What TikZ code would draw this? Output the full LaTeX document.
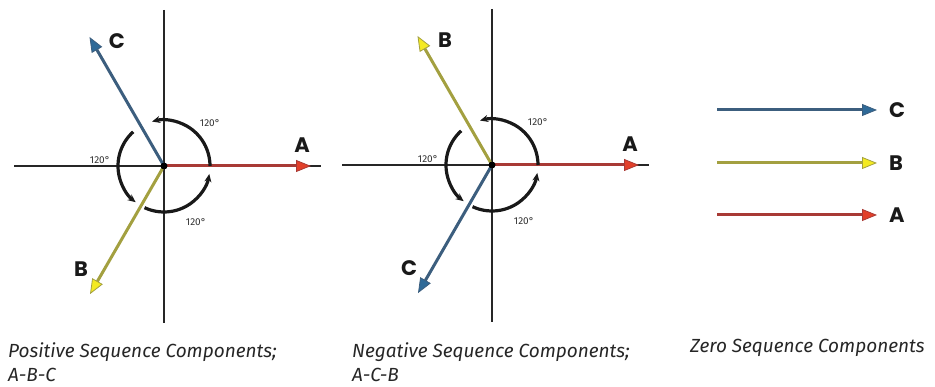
\documentclass[tikz,border=0pt]{standalone}
\usepackage{fontspec}
\setmainfont{Fira Sans}
\newfontfamily\phasefont{Poppins}
\usetikzlibrary{arrows.meta,positioning}

\definecolor{phaseA}{HTML}{A83A35}
\definecolor{headA}{HTML}{E2402A}
\definecolor{phaseB}{HTML}{A3A040}
\definecolor{headB}{HTML}{F4EA22}
\definecolor{phaseC}{HTML}{3C5E7E}
\definecolor{headC}{HTML}{2F6A98}

\begin{document}
\begin{tikzpicture}[x=1pt, y=1pt, >=Stealth,
    axis/.style={line width=2.2pt, black!85},
    vecA/.style={line width=3pt, phaseA, -{Triangle[length=15pt, width=12pt, fill=headA, line width=0.8pt]}},
    vecB/.style={line width=3pt, phaseB, -{Triangle[length=15pt, width=12pt, fill=headB, line width=0.8pt]}},
    vecC/.style={line width=3pt, phaseC, -{Triangle[length=15pt, width=12pt, fill=headC, line width=0.8pt]}},
    turn/.style={line width=3.2pt, black!90, -{Stealth[length=8pt, width=7pt]}},
    dot/.style={circle, fill=black, inner sep=0pt, minimum size=7pt},
    phase/.style={font=\phasefont\bfseries\fontsize{21}{21}\selectfont, inner sep=0pt, black!90},
    deg/.style={font=\fontsize{10}{10}\selectfont, inner sep=0pt, black!80},
    caption/.style={font=\itshape\fontsize{19}{24}\selectfont, align=left, anchor=north west, inner sep=0pt, black!85}]

  \useasboundingbox (0,0) rectangle (935,387);

  % positive and negative sequence phasors
  \foreach \p/\x/\y/\up/\dn in {pos/164/221/C/B, neg/492/222/B/C} {
    \coordinate (\p o) at (\x,\y);
    \coordinate (\p w) at ([xshift=-150]\p o);
    \coordinate (\p e) at ([xshift=157]\p o);
    \coordinate (\p n) at ([yshift=156]\p o);
    \coordinate (\p s) at ([yshift=-157]\p o);
    \draw[axis] (\p w) -- (\p e);
    \draw[axis] (\p n) -- (\p s);

    \coordinate (\p a) at ([shift={(0:147)}]\p o);
    \coordinate (\p u) at ([shift={(120:149)}]\p o);
    \coordinate (\p d) at ([shift={(240:148)}]\p o);
    \draw[vecA] (\p o) -- (\p a);
    \draw[vec\up] (\p o) -- (\p u);
    \draw[vec\dn] (\p o) -- (\p d);

    \draw[turn] ([shift={(0:46)}]\p o) arc[start angle=0, end angle=105, radius=46];
    \draw[turn] ([shift={(132:46)}]\p o) arc[start angle=132, end angle=232, radius=46];
    \draw[turn] ([shift={(245:46)}]\p o) arc[start angle=245, end angle=350, radius=46];
    \node[dot] (\p dot) at (\p o) {};

    \node[phase] (\p A) at ([shift={(138,21)}]\p o) {A};
    \node[phase] (\p U) at ([shift={(-47,125)}]\p o) {\up};
    \node[phase] (\p D) at ([shift={(-83,-103)}]\p o) {\dn};

    \node[deg] (\p t1) at ([shift={(46,43)}]\p o) {120°};
    \node[deg] (\p t2) at ([shift={(-64,6)}]\p o) {120°};
    \node[deg] (\p t3) at ([shift={(32,-56)}]\p o) {120°};
  }

  % zero sequence phasors
  \foreach \ph/\y in {C/277, B/224, A/172} {
    \coordinate (z\ph s) at (717,\y);
    \coordinate (z\ph e) at (877,\y);
    \draw[vec\ph] (z\ph s) -- (z\ph e);
    \node[phase, anchor=west] (z\ph) at (889,\y) {\ph};
  }

  \node[caption] (poscap) at (8,45) {Positive Sequence Components;\\A-B-C};
  \node[caption] (negcap) at (352,45) {Negative Sequence Components;\\A-C-B};
  \node[caption] (zerocap) at (690,48) {Zero Sequence Components};
\end{tikzpicture}
\end{document}
